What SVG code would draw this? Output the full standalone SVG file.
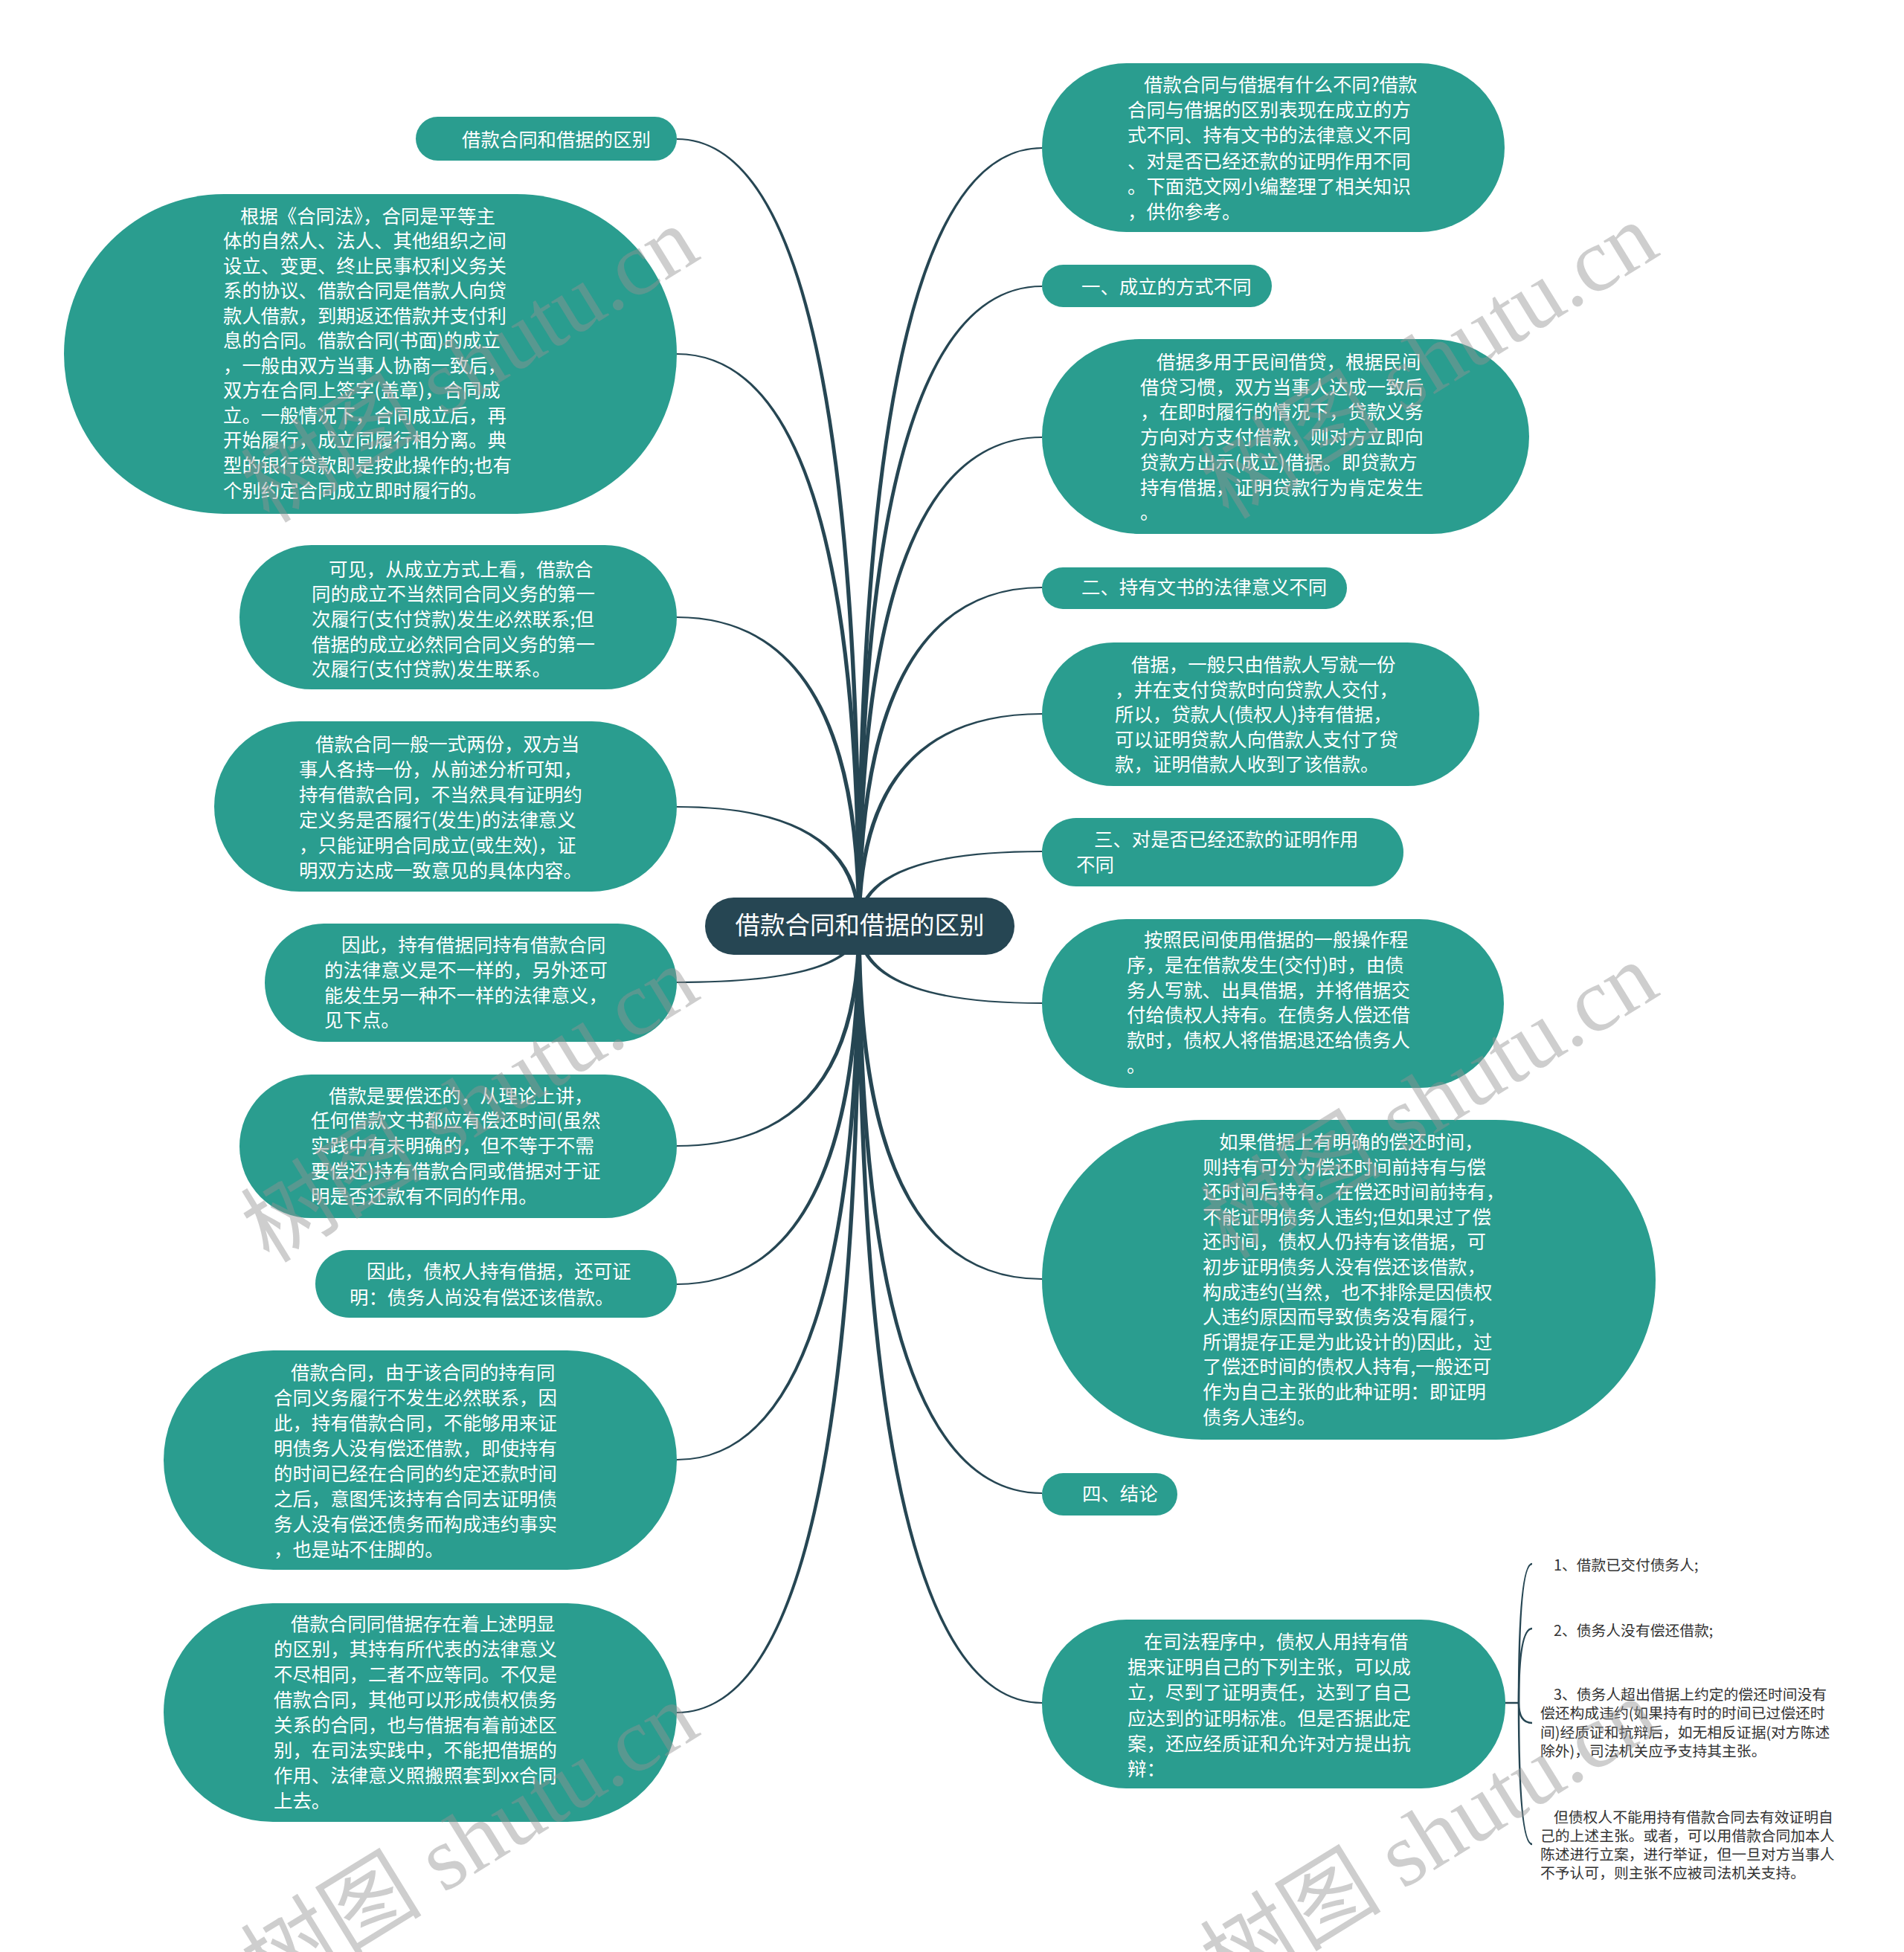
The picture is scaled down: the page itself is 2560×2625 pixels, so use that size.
<svg xmlns="http://www.w3.org/2000/svg" width="2560" height="2625" viewBox="0 0 2560 2625">
<style>
.bg{fill:#ffffff}
.nd{fill:#2a9d8f}
.root{fill:#264653}
.t{fill:#ffffff;font-family:"Noto Sans CJK SC","Noto Sans",sans-serif;font-size:25.4px}
.rt{fill:#ffffff;font-family:"Noto Sans CJK SC","Noto Sans",sans-serif;font-size:33.5px;text-anchor:middle}
.st{fill:#333333;font-family:"Noto Sans CJK SC","Noto Sans",sans-serif;font-size:19.8px}
.br{fill:#264653}
.sl{fill:none;stroke:#264653;stroke-width:2.5}
.wm{fill:#929292;fill-opacity:0.45;font-family:"Liberation Serif","Noto Sans CJK SC",serif;font-size:122px}
</style>
<rect class="bg" x="0" y="0" width="2560" height="2625"/>
<g id="connectors">
<path class="br" d="M1152.2 1245 Q1152.2 188 910 188 L910 186 Q1157.8 186 1157.8 1245 Z"/>
<path class="br" d="M1152.2 1245 Q1152.2 477 910 477 L910 475 Q1157.8 475 1157.8 1245 Z"/>
<path class="br" d="M1152.2 1245 Q1152.2 831 910 831 L910 829 Q1157.8 829 1157.8 1245 Z"/>
<path class="br" d="M1152.2 1245 Q1152.2 1086 910 1086 L910 1084 Q1157.8 1084 1157.8 1245 Z"/>
<path class="br" d="M1157.8 1245 Q1157.8 1322 910 1322 L910 1320 Q1152.2 1320 1152.2 1245 Z"/>
<path class="br" d="M1157.8 1245 Q1157.8 1542 910 1542 L910 1540 Q1152.2 1540 1152.2 1245 Z"/>
<path class="br" d="M1157.8 1245 Q1157.8 1728 910 1728 L910 1726 Q1152.2 1726 1152.2 1245 Z"/>
<path class="br" d="M1157.8 1245 Q1157.8 1964 910 1964 L910 1962 Q1152.2 1962 1152.2 1245 Z"/>
<path class="br" d="M1157.8 1245 Q1157.8 2304 910 2304 L910 2302 Q1152.2 2302 1152.2 1245 Z"/>
<path class="br" d="M1152.2 1245 Q1152.2 198 1401 198 L1401 200 Q1157.8 200 1157.8 1245 Z"/>
<path class="br" d="M1152.2 1245 Q1152.2 384 1401 384 L1401 386 Q1157.8 386 1157.8 1245 Z"/>
<path class="br" d="M1152.2 1245 Q1152.2 587 1401 587 L1401 589 Q1157.8 589 1157.8 1245 Z"/>
<path class="br" d="M1152.2 1245 Q1152.2 789 1401 789 L1401 791 Q1157.8 791 1157.8 1245 Z"/>
<path class="br" d="M1152.2 1245 Q1152.2 959 1401 959 L1401 961 Q1157.8 961 1157.8 1245 Z"/>
<path class="br" d="M1152.2 1245 Q1152.2 1144 1401 1144 L1401 1146 Q1157.8 1146 1157.8 1245 Z"/>
<path class="br" d="M1157.8 1245 Q1157.8 1348 1401 1348 L1401 1350 Q1152.2 1350 1152.2 1245 Z"/>
<path class="br" d="M1157.8 1245 Q1157.8 1719 1401 1719 L1401 1721 Q1152.2 1721 1152.2 1245 Z"/>
<path class="br" d="M1157.8 1245 Q1157.8 2007 1401 2007 L1401 2009 Q1152.2 2009 1152.2 1245 Z"/>
<path class="br" d="M1157.8 1245 Q1157.8 2289 1401 2289 L1401 2291 Q1152.2 2291 1152.2 1245 Z"/>
<path class="sl" d="M2020 2290 L2042 2290"/>
<path class="sl" d="M2042 2290 Q2042 2103 2060 2103"/>
<path class="sl" d="M2042 2290 Q2042 2190 2060 2190"/>
<path class="sl" d="M2042 2290 Q2042 2317 2060 2317"/>
<path class="sl" d="M2042 2290 Q2042 2480 2060 2480"/>
</g>
<g id="root">
<rect class="root" x="948" y="1207" width="416" height="77" rx="38.5"/>
<text class="rt" x="1156" y="1256">借款合同和借据的区别</text>
</g>
<g id="n-l1">
<rect class="nd" x="559" y="157" width="351" height="59" rx="29.5"/>
<text class="t" x="621" y="197">借款合同和借据的区别</text>
</g>
<g id="n-l2">
<rect class="nd" x="86" y="261" width="824" height="430" rx="215"/>
<text class="t"><tspan x="323" y="299.5">根据《合同法》，合同是平等主</tspan><tspan x="300" y="333">体的自然人、法人、其他组织之间</tspan><tspan x="300" y="366.6">设立、变更、终止民事权利义务关</tspan><tspan x="300" y="400.1">系的协议、借款合同是借款人向贷</tspan><tspan x="300" y="433.7">款人借款，到期返还借款并支付利</tspan><tspan x="300" y="467.2">息的合同。借款合同(书面)的成立</tspan><tspan x="300" y="500.8">，一般由双方当事人协商一致后，</tspan><tspan x="300" y="534.3">双方在合同上签字(盖章)，合同成</tspan><tspan x="300" y="567.9">立。一般情况下，合同成立后，再</tspan><tspan x="300" y="601.4">开始履行，成立同履行相分离。典</tspan><tspan x="300" y="635">型的银行贷款即是按此操作的;也有</tspan><tspan x="300" y="668.5">个别约定合同成立即时履行的。</tspan></text>
</g>
<g id="n-l3">
<rect class="nd" x="322" y="733" width="588" height="194" rx="97"/>
<text class="t"><tspan x="442" y="774.5">可见，从成立方式上看，借款合</tspan><tspan x="419" y="808.2">同的成立不当然同合同义务的第一</tspan><tspan x="419" y="841.9">次履行(支付贷款)发生必然联系;但</tspan><tspan x="419" y="875.6">借据的成立必然同合同义务的第一</tspan><tspan x="419" y="909.3">次履行(支付贷款)发生联系。</tspan></text>
</g>
<g id="n-l4">
<rect class="nd" x="288" y="970" width="622" height="229" rx="114.5"/>
<text class="t"><tspan x="424" y="1009.5">借款合同一般一式两份，双方当</tspan><tspan x="402" y="1043.5">事人各持一份，从前述分析可知，</tspan><tspan x="402" y="1077.5">持有借款合同，不当然具有证明约</tspan><tspan x="402" y="1111.5">定义务是否履行(发生)的法律意义</tspan><tspan x="402" y="1145.5">，只能证明合同成立(或生效)，证</tspan><tspan x="402" y="1179.5">明双方达成一致意见的具体内容。</tspan></text>
</g>
<g id="n-l5">
<rect class="nd" x="356" y="1242" width="554" height="159" rx="79.5"/>
<text class="t"><tspan x="459" y="1280">因此，持有借据同持有借款合同</tspan><tspan x="436" y="1314">的法律意义是不一样的，另外还可</tspan><tspan x="436" y="1348">能发生另一种不一样的法律意义，</tspan><tspan x="436" y="1381">见下点。</tspan></text>
</g>
<g id="n-l6">
<rect class="nd" x="322" y="1445" width="588" height="193" rx="96.5"/>
<text class="t"><tspan x="442" y="1482.5">借款是要偿还的，从理论上讲，</tspan><tspan x="418" y="1516.3">任何借款文书都应有偿还时间(虽然</tspan><tspan x="418" y="1550.1">实践中有未明确的，但不等于不需</tspan><tspan x="418" y="1583.9">要偿还)持有借款合同或借据对于证</tspan><tspan x="418" y="1617.7">明是否还款有不同的作用。</tspan></text>
</g>
<g id="n-l7">
<rect class="nd" x="424" y="1681" width="486" height="91" rx="45.5"/>
<text class="t"><tspan x="493" y="1719">因此，债权人持有借据，还可证</tspan><tspan x="470" y="1754">明：债务人尚没有偿还该借款。</tspan></text>
</g>
<g id="n-l8">
<rect class="nd" x="220" y="1816" width="690" height="295" rx="147.5"/>
<text class="t"><tspan x="391" y="1855">借款合同，由于该合同的持有同</tspan><tspan x="368" y="1889">合同义务履行不发生必然联系，因</tspan><tspan x="368" y="1923">此，持有借款合同，不能够用来证</tspan><tspan x="368" y="1957">明债务人没有偿还借款，即使持有</tspan><tspan x="368" y="1991">的时间已经在合同的约定还款时间</tspan><tspan x="368" y="2025">之后，意图凭该持有合同去证明债</tspan><tspan x="368" y="2059">务人没有偿还债务而构成违约事实</tspan><tspan x="368" y="2093">，也是站不住脚的。</tspan></text>
</g>
<g id="n-l9">
<rect class="nd" x="220" y="2156" width="690" height="294" rx="147"/>
<text class="t"><tspan x="391" y="2193">借款合同同借据存在着上述明显</tspan><tspan x="368" y="2227">的区别，其持有所代表的法律意义</tspan><tspan x="368" y="2261">不尽相同，二者不应等同。不仅是</tspan><tspan x="368" y="2295">借款合同，其他可以形成债权债务</tspan><tspan x="368" y="2329">关系的合同，也与借据有着前述区</tspan><tspan x="368" y="2363">别，在司法实践中，不能把借据的</tspan><tspan x="368" y="2397">作用、法律意义照搬照套到xx合同</tspan><tspan x="368" y="2431">上去。</tspan></text>
</g>
<g id="n-r1">
<rect class="nd" x="1401" y="85" width="622" height="227" rx="113.5"/>
<text class="t"><tspan x="1538" y="123">借款合同与借据有什么不同?借款</tspan><tspan x="1516" y="157.2">合同与借据的区别表现在成立的方</tspan><tspan x="1516" y="191.4">式不同、持有文书的法律意义不同</tspan><tspan x="1516" y="225.6">、对是否已经还款的证明作用不同</tspan><tspan x="1516" y="259.8">。下面范文网小编整理了相关知识</tspan><tspan x="1516" y="294">，供你参考。</tspan></text>
</g>
<g id="n-r2">
<rect class="nd" x="1401" y="356" width="309" height="57" rx="28.5"/>
<text class="t" x="1454" y="395">一、成立的方式不同</text>
</g>
<g id="n-r3">
<rect class="nd" x="1401" y="456" width="655" height="262" rx="131"/>
<text class="t"><tspan x="1555" y="496">借据多用于民间借贷，根据民间</tspan><tspan x="1533" y="529.7">借贷习惯，双方当事人达成一致后</tspan><tspan x="1533" y="563.4">，在即时履行的情况下，贷款义务</tspan><tspan x="1533" y="597.1">方向对方支付借款，则对方立即向</tspan><tspan x="1533" y="630.8">贷款方出示(成立)借据。即贷款方</tspan><tspan x="1533" y="664.5">持有借据，证明贷款行为肯定发生</tspan><tspan x="1533" y="698.2">。</tspan></text>
</g>
<g id="n-r4">
<rect class="nd" x="1401" y="763" width="410" height="56" rx="28"/>
<text class="t" x="1454" y="799">二、持有文书的法律意义不同</text>
</g>
<g id="n-r5">
<rect class="nd" x="1401" y="864" width="588" height="193" rx="96.5"/>
<text class="t"><tspan x="1521" y="903">借据，一般只由借款人写就一份</tspan><tspan x="1499" y="936.6">，并在支付贷款时向贷款人交付，</tspan><tspan x="1499" y="970.2">所以，贷款人(债权人)持有借据，</tspan><tspan x="1499" y="1003.8">可以证明贷款人向借款人支付了贷</tspan><tspan x="1499" y="1037.4">款，证明借款人收到了该借款。</tspan></text>
</g>
<g id="n-r6">
<rect class="nd" x="1401" y="1100" width="486" height="92" rx="46"/>
<text class="t"><tspan x="1471" y="1138">三、对是否已经还款的证明作用</tspan><tspan x="1447" y="1172">不同</tspan></text>
</g>
<g id="n-r7">
<rect class="nd" x="1401" y="1236" width="621" height="227" rx="113.5"/>
<text class="t"><tspan x="1538" y="1273">按照民间使用借据的一般操作程</tspan><tspan x="1515" y="1306.8">序，是在借款发生(交付)时，由债</tspan><tspan x="1515" y="1340.6">务人写就、出具借据，并将借据交</tspan><tspan x="1515" y="1374.4">付给债权人持有。在债务人偿还借</tspan><tspan x="1515" y="1408.2">款时，债权人将借据退还给债务人</tspan><tspan x="1515" y="1442">。</tspan></text>
</g>
<g id="n-r8">
<rect class="nd" x="1401" y="1506" width="825" height="430" rx="215"/>
<text class="t"><tspan x="1639" y="1545">如果借据上有明确的偿还时间，</tspan><tspan x="1617" y="1578.6">则持有可分为偿还时间前持有与偿</tspan><tspan x="1617" y="1612.2">还时间后持有。在偿还时间前持有，</tspan><tspan x="1617" y="1645.8">不能证明债务人违约;但如果过了偿</tspan><tspan x="1617" y="1679.4">还时间，债权人仍持有该借据，可</tspan><tspan x="1617" y="1713">初步证明债务人没有偿还该借款，</tspan><tspan x="1617" y="1746.6">构成违约(当然，也不排除是因债权</tspan><tspan x="1617" y="1780.2">人违约原因而导致债务没有履行，</tspan><tspan x="1617" y="1813.8">所谓提存正是为此设计的)因此，过</tspan><tspan x="1617" y="1847.4">了偿还时间的债权人持有,一般还可</tspan><tspan x="1617" y="1881">作为自己主张的此种证明：即证明</tspan><tspan x="1617" y="1914.6">债务人违约。</tspan></text>
</g>
<g id="n-r9">
<rect class="nd" x="1401" y="1981" width="182" height="57" rx="28.5"/>
<text class="t" x="1455" y="2018">四、结论</text>
</g>
<g id="n-r10">
<rect class="nd" x="1401" y="2178" width="623" height="227" rx="113.5"/>
<text class="t"><tspan x="1538" y="2217">在司法程序中，债权人用持有借</tspan><tspan x="1516" y="2251.2">据来证明自己的下列主张，可以成</tspan><tspan x="1516" y="2285.4">立，尽到了证明责任，达到了自己</tspan><tspan x="1516" y="2319.6">应达到的证明标准。但是否据此定</tspan><tspan x="1516" y="2353.8">案，还应经质证和允许对方提出抗</tspan><tspan x="1516" y="2388">辩：</tspan></text>
</g>
<g id="n-s1">
<text class="st" x="2089" y="2111.5">1、借款已交付债务人;</text>
</g>
<g id="n-s2">
<text class="st" x="2089" y="2199.5">2、债务人没有偿还借款;</text>
</g>
<g id="n-s3">
<text class="st"><tspan x="2089" y="2285.5">3、债务人超出借据上约定的偿还时间没有</tspan><tspan x="2071" y="2311">偿还构成违约(如果持有时的时间已过偿还时</tspan><tspan x="2071" y="2336.5">间)经质证和抗辩后，如无相反证据(对方陈述</tspan><tspan x="2071" y="2362">除外)，司法机关应予支持其主张。</tspan></text>
</g>
<g id="n-s4">
<text class="st"><tspan x="2089" y="2450.5">但债权人不能用持有借款合同去有效证明自</tspan><tspan x="2071" y="2475.5">己的上述主张。或者，可以用借款合同加本人</tspan><tspan x="2071" y="2500.5">陈述进行立案，进行举证，但一旦对方当事人</tspan><tspan x="2071" y="2525.5">不予认可，则主张不应被司法机关支持。</tspan></text>
</g>
<g id="watermarks">
<text class="wm" transform="translate(362 705) rotate(-31.6)">树图 shutu.cn</text>
<text class="wm" transform="translate(1652 700) rotate(-31.6)">树图 shutu.cn</text>
<text class="wm" transform="translate(362 1700) rotate(-31.6)">树图 shutu.cn</text>
<text class="wm" transform="translate(1652 1695) rotate(-31.6)">树图 shutu.cn</text>
<text class="wm" transform="translate(362 2690) rotate(-31.6)">树图 shutu.cn</text>
<text class="wm" transform="translate(1652 2685) rotate(-31.6)">树图 shutu.cn</text>
</g>
</svg>
